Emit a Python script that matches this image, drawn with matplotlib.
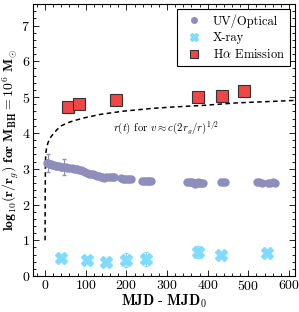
import numpy as np
import matplotlib
matplotlib.use("Agg")
import matplotlib.pyplot as plt
from matplotlib.ticker import MultipleLocator

# Constants
UV_COLOR = "#8e8ebd"
XRAY_COLOR = "#80dcff"
HALPHA_COLOR = "#f24646"

plt.rcParams['font.family'] = 'cmr10'
plt.rcParams['mathtext.fontset'] = 'cm'
plt.rcParams['axes.formatter.use_mathtext'] = True
plt.rcParams['axes.unicode_minus'] = False

# UV/Optical (days since MJD0, log10 r/rg)
uv_t = [5, 8, 11, 14, 18, 22, 26, 30, 34, 38, 42, 47, 51, 55, 60, 65, 70, 75, 79, 84,
        89, 93, 97, 102, 107, 112, 117, 122, 128, 133, 137, 141, 146, 151, 157, 162,
        166, 170, 186, 191, 196, 202, 207, 212, 238, 243, 248, 252, 256, 261,
        348, 353, 358, 362, 366, 369, 372, 375, 378, 381, 384, 388,
        432, 437, 442, 521, 527, 533, 548, 554, 560, 566]
uv_r = [3.17, 3.16, 3.14, 3.13, 3.11, 3.10, 3.09, 3.09, 3.07, 3.06, 3.05, 3.04, 3.05, 3.03,
        3.02, 3.01, 3.00, 3.00, 2.99, 2.97, 2.96, 2.94, 2.92, 2.88, 2.86, 2.85, 2.84,
        2.83, 2.81, 2.80, 2.78, 2.76, 2.75, 2.76, 2.77, 2.76, 2.77, 2.76, 2.73, 2.72,
        2.71, 2.71, 2.70, 2.70, 2.67, 2.67, 2.66, 2.66, 2.67, 2.66,
        2.63, 2.64, 2.63, 2.62, 2.61, 2.58, 2.60, 2.62, 2.61, 2.60, 2.61, 2.61,
        2.62, 2.62, 2.62, 2.62, 2.62, 2.61, 2.61, 2.61, 2.62, 2.61]
uv_err = [0.0] * len(uv_r)
uv_err[1] = 0.25
uv_err[11] = 0.22

# X-ray
xray_t = [40, 104, 150, 200, 248, 375, 433, 545]
xray_r = [0.51, 0.45, 0.39, 0.45, 0.48, 0.67, 0.58, 0.65]
xray_err = [0.05, 0.05, 0.05, 0.20, 0.20, 0.17, 0.08, 0.10]

# H-alpha emission
halpha_t = [57, 84, 175, 375, 435, 489]
halpha_r = [4.73, 4.80, 4.93, 5.00, 5.03, 5.17]

# r(t) curve
curve_t = [0, 0.3, 1, 2, 4, 7, 10, 15, 22, 30, 40, 55, 70, 96, 137, 194, 259, 308, 390, 472, 578, 615]
curve_r = [1.0, 2.4, 3.25, 3.45, 3.6, 3.72, 3.8, 3.9, 4.0, 4.1, 4.2, 4.28, 4.34, 4.42, 4.52,
           4.61, 4.68, 4.72, 4.77, 4.84, 4.89, 4.91]

fig = plt.figure(figsize=(2.99, 3.12), dpi=100)
ax = fig.add_axes([0.11, 0.115, 0.877, 0.872])

ax.plot(curve_t, curve_r, color='black', ls=(0, (3, 2.2)), lw=1.1, zorder=1)

uv = ax.errorbar(uv_t, uv_r, yerr=uv_err, fmt='o', ms=5, color=UV_COLOR, mec=UV_COLOR,
                 elinewidth=0.8, capsize=1.5, zorder=3)
xr = ax.errorbar(xray_t, xray_r, yerr=xray_err, fmt='X', ms=8, color=XRAY_COLOR, mec=XRAY_COLOR,
                 elinewidth=0.8, capsize=1.5, zorder=3)
ha, = ax.plot(halpha_t, halpha_r, 's', ms=8, color=HALPHA_COLOR, mec='#333333', mew=0.8, zorder=4)

ax.text(167, 4.15, r'$r(t)$ for $v \approx c(2r_g/r)^{1/2}$', fontsize=7.8, va='center')

ax.set_xlim(-30, 615)
ax.set_ylim(0, 7.6)
ax.xaxis.set_major_locator(MultipleLocator(100))
ax.xaxis.set_minor_locator(MultipleLocator(20))
ax.yaxis.set_major_locator(MultipleLocator(1))
ax.yaxis.set_minor_locator(MultipleLocator(0.2))
ax.tick_params(which='both', direction='in', top=True, right=True, labelsize=10, width=0.6, pad=2)
ax.tick_params(which='major', length=4)
ax.tick_params(which='minor', length=2)
for spine in ax.spines.values():
    spine.set_linewidth(0.8)

ax.set_xlabel(r'$\mathbf{MJD\ \text{-}\ MJD_0}$', fontsize=10.5, labelpad=0)
ax.set_ylabel(r'$\mathbf{log_{10}(r/r}_{g}\mathbf{)\ for\ M_{BH}=10^6\ M_{\odot}}$', fontsize=10)
ax.yaxis.set_label_coords(-0.045, 0.5)

leg = ax.legend(handles=[uv[0], xr[0], ha], labels=['UV/Optical', 'X-ray', r'H$\alpha$ Emission'],
                loc='upper right', fontsize=9, numpoints=1,
                fancybox=False, framealpha=1, edgecolor='black', handletextpad=0.5,
                borderpad=0.4, labelspacing=0.35, markerscale=0.8, borderaxespad=0.4)
leg.get_frame().set_linewidth(0.8)

fig.savefig('out.png', dpi=100)
